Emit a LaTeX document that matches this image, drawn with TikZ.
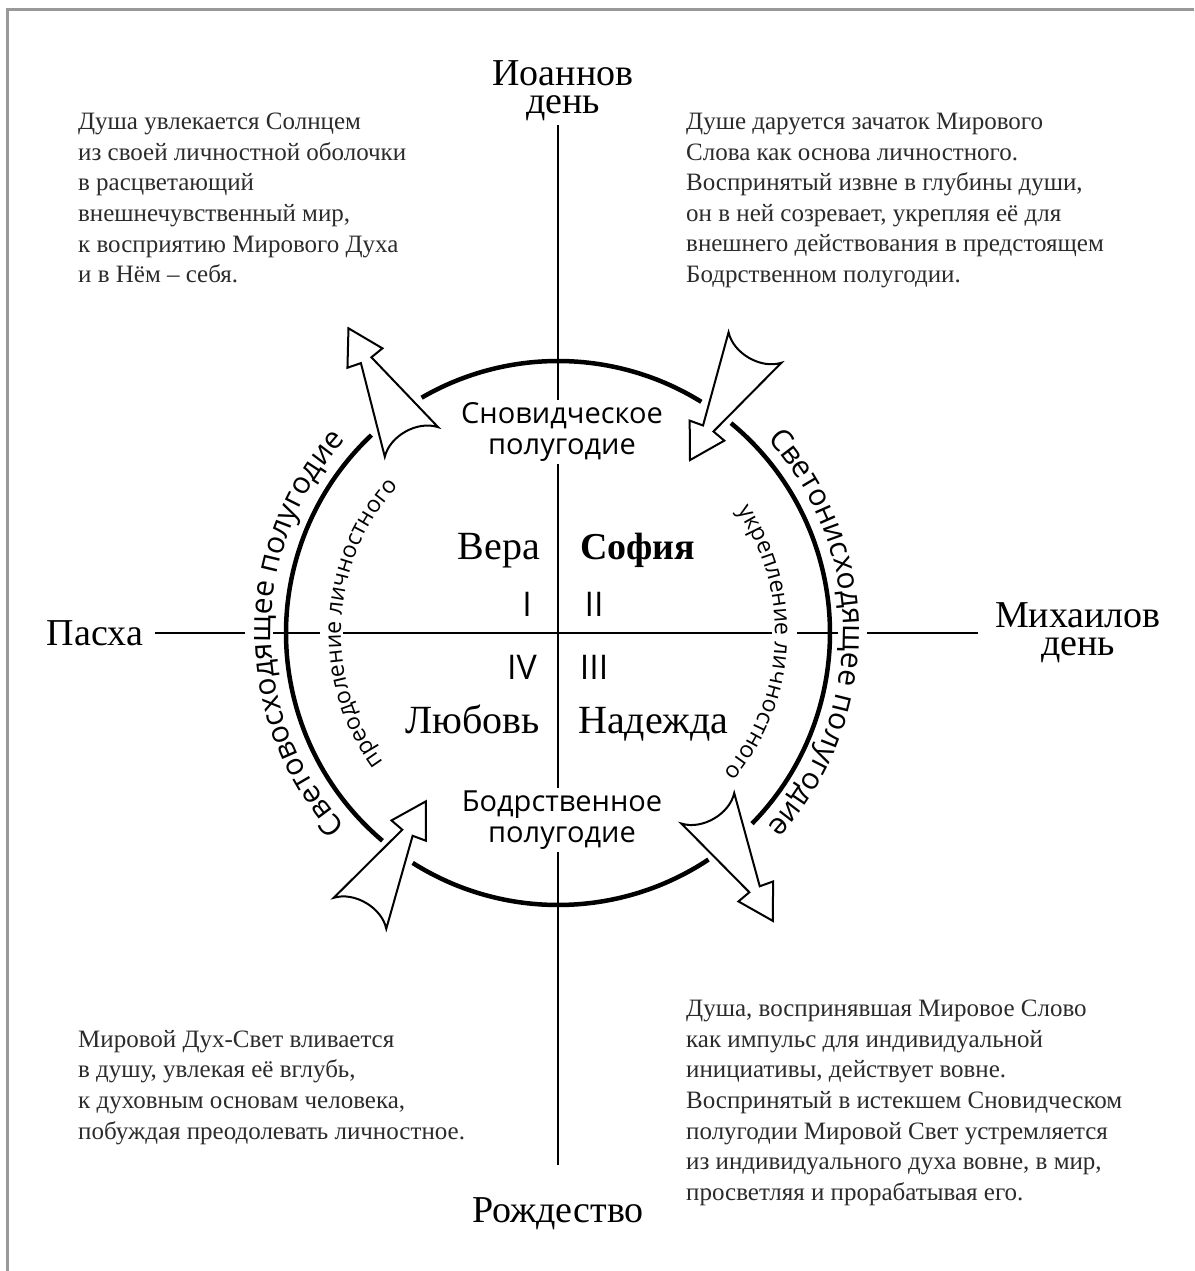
\documentclass[tikz,border=0pt]{standalone}
\usepackage{fontspec}
\setmainfont{Liberation Serif}
\newfontfamily\sansfont{Open Sans}
\usetikzlibrary{decorations.text, positioning}
\definecolor{framegray}{HTML}{999999}
\definecolor{inktext}{HTML}{2B2B2B}
\newcommand{\bodyfont}{\fontsize{25}{30.6}\selectfont}
\tikzset{
  bigarrow/.pic={
    \draw[line width=2pt, fill=white, line join=miter]
      (0,30.5) -- (93.5,6) -- (96,20) -- (130,0) -- (96,-20) -- (93.5,-6) -- (0,-30.5)
      .. controls (16,-16) and (16,16) .. (0,30.5) -- cycle;
  }
}
\begin{document}
\begin{tikzpicture}[x=1pt, y=1pt,
    ring/.style={line width=4.5pt},
    axisline/.style={line width=2pt},
    note/.style={align=left, anchor=north west, inner sep=0pt, font=\bodyfont, text=inktext},
    season/.style={align=center, inner sep=0pt, font=\fontsize{38}{28}\selectfont},
    half/.style={align=center, fill=white, inner sep=3pt, font=\sansfont\fontsize{29}{31}\selectfont},
    virtue/.style={inner sep=0pt, font=\fontsize{40}{40}\selectfont},
    numeral/.style={inner sep=0pt, font=\sansfont\fontsize{34}{34}\selectfont}]
  \useasboundingbox (-558,-638) rectangle (636,633);
  \draw[framegray, line width=3pt] (636,623) -- (-550,623) -- (-550,-638);

  % axes
  \coordinate (vtop) at (0,508);
  \coordinate (vbot) at (0,-532);
  \coordinate (hleft) at (-403,0);
  \coordinate (hright) at (420,0);
  \draw[axisline] (vtop) -- (vbot);
  \draw[axisline, dash pattern=on 90pt off 28pt on 47pt off 23pt on 429pt off 25pt on 41pt off 29pt on 200pt off 1pt] (hleft) -- (hright);

  % feasts
  \node[season, anchor=north] (ioann) at (5,573) {Иоаннов\\день};
  \node[season, anchor=north] (mihail) at (520,31) {Михаилов\\день};
  \node[season] (pasha) at (-463,0) {Пасха};
  \node[season, anchor=base] (rozhd) at (0,-589) {Рождество};

  % half-years
  \node[half] (dream) at (4,201) {Сновидческое\\полугодие};
  \node[half] (wake) at (4,-187) {Бодрственное\\полугодие};

  % quadrants
  \node[virtue, anchor=base east] (vera) at (-18,73) {Вера};
  \node[virtue, anchor=base west, font=\bfseries\fontsize{38}{38}\selectfont] (sofia) at (22,73) {София};
  \node[virtue, anchor=base east] (lubov) at (-18,-100) {Любовь};
  \node[virtue, anchor=base west] (nadezhda) at (20,-100) {Надежда};
  \node[numeral] (q1) at (-31,29) {I};
  \node[numeral] (q2) at (36,29) {II};
  \node[numeral] (q4) at (-36,-34) {IV};
  \node[numeral] (q3) at (36,-34) {III};

  % curved labels
  \path[decorate, decoration={text along path, text align=center,
      text={|\sansfont\fontsize{30}{30}\selectfont|Световосходящее полугодие}}]
    (235:287) arc[start angle=235, end angle=125, radius=287];
  \path[decorate, decoration={text along path, text align=center,
      text={|\sansfont\fontsize{30}{30}\selectfont|Светонисходящее полугодие}}]
    (55:285) arc[start angle=55, end angle=-55, radius=285];
  \path[decorate, decoration={text along path, text align=center,
      text={|\sansfont\fontsize{23}{23}\selectfont|преодоление личностного}}]
    (227:217) arc[start angle=227, end angle=127, radius=217];
  \path[decorate, decoration={text along path, text align=center,
      text={|\sansfont\fontsize{23}{23}\selectfont|укрепление личностного}}]
    (47:217) arc[start angle=47, end angle=-53, radius=217];

  % circle
  \foreach \s/\e in {58.2/120.1, 133.3/229.8, 237.7/303.6, 315.5/410.5}
    \draw[ring] (\s:272) arc[start angle=\s, end angle=\e, radius=272];

  % arrows
  \foreach \x/\y/\a in {-146.5/191/119, 197/285.5/240, -198/-280.3/59.5, 149.8/-175.3/-60}
    \pic[rotate=\a] at (\x,\y) {bigarrow};

  % notes
  \node[note] (noteA) at (-480,520) {Душа увлекается Солнцем\\из своей личностной оболочки\\в расцветающий\\внешнечувственный мир,\\к восприятию Мирового Духа\\и в Нём – себя.};
  \node[note] (noteB) at (128,520) {Душе даруется зачаток Мирового\\Слова как основа личностного.\\Воспринятый извне в глубины души,\\он в ней созревает, укрепляя её для\\внешнего действования в предстоящем\\Бодрственном полугодии.};
  \node[note] (noteC) at (-480,-397) {Мировой Дух-Свет вливается\\в душу, увлекая её вглубь,\\к духовным основам человека,\\побуждая преодолевать личностное.};
  \node[note] (noteD) at (128,-367) {Душа, воспринявшая Мировое Слово\\как импульс для индивидуальной\\инициативы, действует вовне.\\Воспринятый в истекшем Сновидческом\\полугодии Мировой Свет устремляется\\из индивидуального духа вовне, в мир,\\просветляя и прорабатывая его.};
\end{tikzpicture}
\end{document}
